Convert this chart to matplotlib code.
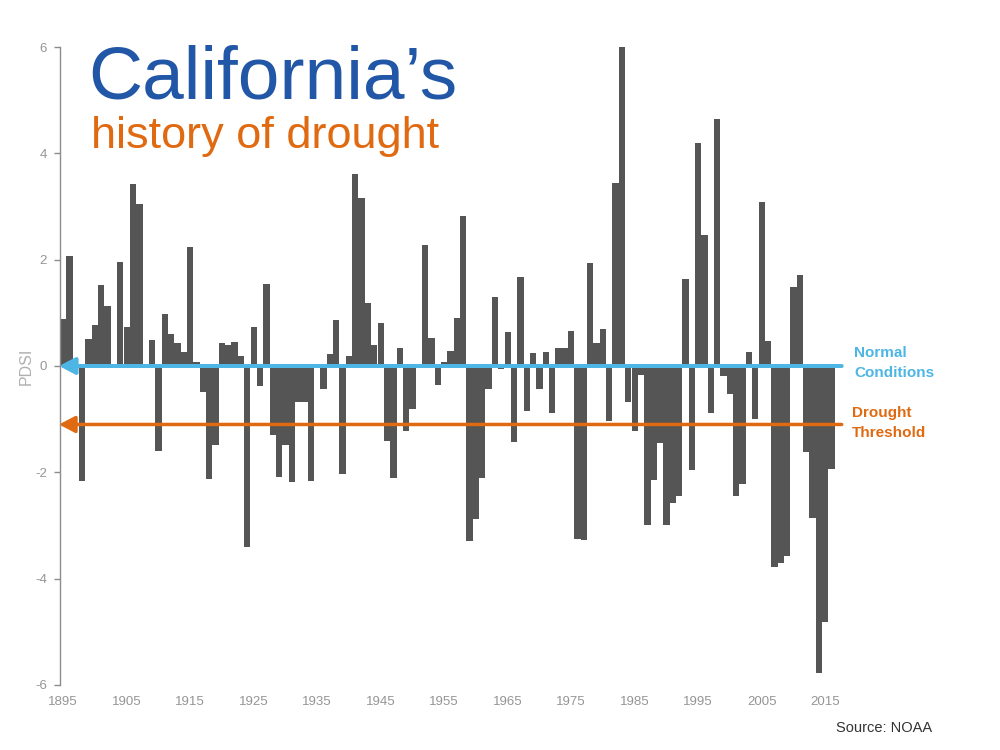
import numpy as np
import matplotlib
matplotlib.use("Agg")
from matplotlib import pyplot as plt

plt.rcParams['font.family'] = ['Liberation Sans', 'DejaVu Sans']
plt.rcParams['axes.unicode_minus'] = False

# annual PDSI for California
years = np.arange(1895, 2017)
pdsi = [0.89, 2.06, 0.02, -2.17, 0.51, 0.77, 1.52, 1.12, 0.03, 1.95,
        0.73, 3.42, 3.04, 0.03, 0.48, -1.59, 0.98, 0.61, 0.44, 0.27,
        2.23, 0.07, -0.48, -2.12, -1.49, 0.43, 0.39, 0.45, 0.19, -3.41,
        0.74, -0.38, 1.54, -1.30, -2.08, -1.49, -2.19, -0.67, -0.67, -2.16,
        0.00, -0.43, 0.23, 0.86, -2.03, 0.19, 3.61, 3.16, 1.18, 0.39,
        0.80, -1.41, -2.11, 0.33, -1.22, -0.81, 0.02, 2.27, 0.52, -0.36,
        0.07, 0.29, 0.90, 2.82, -3.30, -2.87, -2.10, -0.43, 1.30, -0.06,
        0.64, -1.43, 1.68, -0.84, 0.25, -0.43, 0.27, -0.88, 0.34, 0.34,
        0.66, -3.25, -3.28, 1.93, 0.44, 0.70, -1.04, 3.45, 6.00, -0.68,
        -1.22, -0.16, -2.99, -2.14, -1.45, -2.99, -2.58, -2.44, 1.63, -1.95,
        4.19, 2.46, -0.88, 4.64, -0.18, -0.53, -2.44, -2.22, 0.26, -1.00,
        3.08, 0.47, -3.78, -3.70, -3.58, 1.48, 1.71, -1.61, -2.85, -5.77,
        -4.81, -1.93]

normal_level = 0.0
drought_level = -1.1
xtick_years = list(range(1895, 2016, 10))
yticks = [-6, -4, -2, 0, 2, 4, 6]

blue = '#4db6e4'
orange = '#e06a12'

fig = plt.figure(figsize=(10, 7.5), dpi=100)
ax = fig.add_axes([0.06, 0.0867, 0.7747, 0.8506])

ax.bar(years, pdsi, width=1.0, color='#555555', linewidth=0, zorder=2)

ax.set_xlim(1894.5, 2016.5)
ax.set_ylim(-6, 6)

for s in ['top', 'right', 'bottom']:
    ax.spines[s].set_visible(False)
ax.spines['left'].set_color('#8c8c8c')
ax.spines['left'].set_linewidth(1)

ax.set_xticks(xtick_years)
ax.set_xticklabels([str(y) for y in xtick_years])
ax.set_yticks(yticks)
ax.set_yticklabels([str(v) for v in yticks])
ax.tick_params(axis='x', length=0, pad=8, labelsize=9.5, labelcolor='#959595')
ax.tick_params(axis='y', length=4.3, width=1, color='#8c8c8c', pad=5,
               labelsize=9.5, labelcolor='#959595')

fig.text(0.026, 0.512, 'PDSI', rotation=90, ha='center', va='center',
         fontsize=11.5, color='#b0b0b0')

# reference lines with arrows pointing at the axis
for level, col, lw in [(normal_level, blue, 2.9), (drought_level, orange, 2.5)]:
    ax.annotate('', xy=(1894.35, level), xytext=(2017.6, level),
                arrowprops=dict(arrowstyle='-|>,head_length=0.95,head_width=0.5',
                                color=col, lw=lw, shrinkA=0, shrinkB=0,
                                mutation_scale=10),
                annotation_clip=False, zorder=5)

fig.text(0.854, 0.5244, 'Normal', fontsize=11, fontweight='bold',
         color=blue, va='baseline')
fig.text(0.854, 0.4977, 'Conditions', fontsize=11, fontweight='bold',
         color=blue, va='baseline')
fig.text(0.852, 0.444, 'Drought', fontsize=11, fontweight='bold',
         color=orange, va='baseline')
fig.text(0.852, 0.4169, 'Threshold', fontsize=11, fontweight='bold',
         color=orange, va='baseline')

fig.text(0.088, 0.8693, 'California\u2019s', fontsize=54, color='#2157a6',
         va='baseline')
fig.text(0.091, 0.8027, 'history of drought', fontsize=32.5, color=orange,
         va='baseline')

fig.text(0.836, 0.024, 'Source: NOAA', fontsize=10.5, color='#333333',
         va='baseline')

fig.savefig('out.png', dpi=100)
